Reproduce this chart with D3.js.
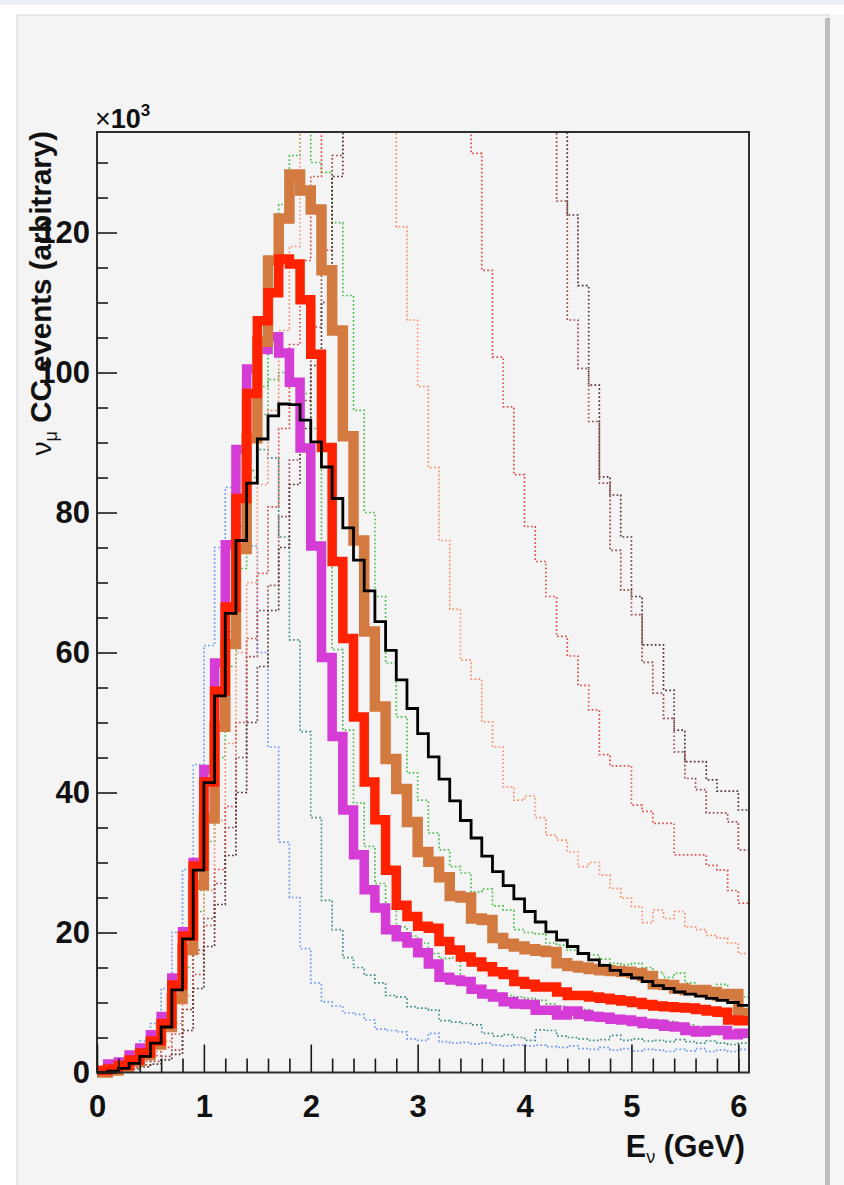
<!DOCTYPE html>
<html><head><meta charset="utf-8">
<script src="https://cdn.jsdelivr.net/npm/d3@7"></script>
<style>
html,body{margin:0;padding:0;background:#ffffff;}
svg{display:block;}
</style></head>
<body>
<svg id="chart" width="844" height="1185"></svg>
<script>
// ---------- data (values in units of 10^3 events, bins of 0.1 GeV) ----------
const binEdges = [0.0,0.1,0.2,0.3,0.4,0.5,0.6,0.7,0.8,0.9,1.0,1.1,1.2,1.3,1.4,1.5,1.6,1.7,1.8,1.9,2.0,
  2.1,2.2,2.3,2.4,2.5,2.6,2.7,2.8,2.9,3.0,3.1,3.2,3.3,3.4,3.5,3.6,3.7,3.8,3.9,4.0,
  4.1,4.2,4.3,4.4,4.5,4.6,4.7,4.8,4.9,5.0,5.1,5.2,5.3,5.4,5.5,5.6,5.7,5.8,5.9,6.0,6.1];

const blackHist = [0,0.2,0.6,1.3,2.3,4.2,6.5,11.8,19.1,28.9,41.4,53.8,65.6,76,84.2,90.5,93.8,95.5,95.4,93.2,90.1,86.5,82,77.8,73.2,68.8,64.4,60.3,56.1,52,48.4,45.1,41.9,38.8,36,33.5,30.9,28.7,26.7,24.8,23,21.5,20.1,18.9,18,17,16.1,15.3,14.6,14,13.5,13,12.4,12,11.5,11.2,10.9,10.6,10.3,10,9.6];
const redHist = [0.3,0.5,1.0,1.8,2.8,4.5,7,12.5,19.5,29.5,41.5,54.5,66.5,82,97,107.4,111.4,116.2,115.5,110.4,102.6,89.3,73,62,50.8,41.5,36.1,28.9,23.9,22.3,20.9,20.6,18.7,17.5,16.5,15.8,15.1,14.4,14,13,12.6,12.2,12.2,11.5,11,11,10.8,10.6,10.4,10.2,10,9.7,9.5,9.4,9.3,9.2,9,8.8,8.6,7.5,7.4];
const magentaHist = [0.3,1.2,1.5,2.5,3.5,5.4,8,13.5,20.1,30,43.3,58.5,75.4,89,100.5,103.3,105.1,102.8,98.6,89.2,75.2,59.3,48,37.5,31.1,26.1,23.5,20.4,19.4,18.5,17.1,15.5,13.6,13.2,13,11.9,11.2,10.8,10.1,9.8,9.7,8.9,8.9,8.2,8.8,8.3,8,7.9,7.6,7.5,7.3,7,6.9,6.6,6.5,6,5.8,6,6,5.4,5.6];
const orangeHist = [0,0.3,0.8,1.5,2.5,4,6.5,10.5,17.5,26.8,36.3,49.4,61.2,74.8,90.6,104.4,116,122,128.3,126,123.3,114.6,106,90.9,76,63,52.3,44.8,40.5,35.8,31.5,30.1,27.9,25.2,25,22,21.8,19.2,18.4,18,17.6,17.4,17.2,15.6,15.2,15,14.8,14.6,14.5,14.4,14.2,13.8,12.6,12.5,12,11.8,11.8,11.5,11,11.2,8.5];

const blueDot = [0.3,1,1.8,2.8,4.5,7,12,20,29,44,61,75,83.6,82,75.2,60,46.5,32.9,25,17.7,12.8,10.1,9.5,8.5,8.3,7.5,6.2,6,5.8,4.8,4.6,5.6,4.4,4.2,4.3,4.1,4.2,3.9,3.8,3.9,3.8,3.9,3.7,3.6,3.8,3.4,3.3,3.6,3.2,3.4,3.1,3.3,3.2,3,3.3,3.1,3.4,3,3.2,3,3.3];
const tealDot = [0.2,0.7,1.3,2.2,3.4,5.2,8,13,20,30,42,55,67,78,86,89,87.8,76.5,61.8,48.7,36.4,24.6,20.4,16.4,15,13.9,12.8,11,10.8,9.4,9.2,8.9,7.4,7.2,7,6.8,5.6,5.2,5.4,5,4.6,6.1,6,5.2,5,4.8,4.6,4.7,5.3,4.6,4.8,4.5,4.6,4.4,4.7,4.4,4.2,4.5,4.2,4,4.2];
const greenLowDot = [0.2,0.6,1.2,2,3,4.6,7.2,11.5,17.6,26,37,50,63,75,86,94,99,100,99,97,92,74,60.4,48.9,38.5,32.3,27,23.5,20.8,19.5,18.5,17,16.3,16.4,13.5,11.8,11.4,11.3,11,10.8,10.6,10.3,9.8,9.5,9.2,9,8.6,8.3,7.9,7.9,7.8,7.6,7.5,7.3,7,6.8,6.5,5.6,5.4,5.2,5];
const greenHighDot = [0,0.4,0.9,1.6,2.6,4,6.5,10,15,23,33,45,58,72,85,98,112,124,131,138,130,128.6,121.4,111,94.6,80,68,58.5,50.8,42.8,38.9,34.2,31.8,29.4,28.5,25.8,26.2,23.8,23.2,20.4,20,19.8,18.5,18.2,17.5,17,16.8,16.2,15.6,15.4,15.6,15,14.3,13.6,14.2,12.8,12.2,12,12.6,11.2,10.8];
const salmonDot = [0,0.3,0.7,1.2,2,3,4.5,7,11,17,26,36,47,60,70,84,94.6,106,118,140,152,160,165,168,165,158,148,136,120.8,107.5,98,86.4,76,66.2,58.9,56.2,50.1,46.5,40.8,38.9,39.5,36.4,33.9,33.2,31.5,29.4,30,28.2,26.3,24.9,23.7,21.4,23.2,22,23,20.8,20.4,19.6,19.2,18.5,17];
const redDot = [0,0.3,0.6,1,1.6,2.4,3.6,5.5,9,14,21,29,38,50,62,71.3,80.8,92,104,116,128,142,155,168,178,186,192,196,198,197,193,186,176,162,148,131.3,114.6,102.2,95.1,85.4,78,73,68,62.3,59.5,55.3,51.8,45.4,43.8,43.8,38.2,37.3,35.6,35.6,31.1,31.1,31.1,29.6,28.9,26,24.2];
const brownDotA = [0,0.2,0.4,0.7,1.1,1.6,2.3,3.2,9,17.5,22,27,35,45,59.4,66,69.6,79.4,87.5,96,106.5,117.5,131,145,160,175,190,200,208,212,214,213,210,205,198,190,180,170,160,150,142,137,136,124.5,107.5,100.6,93,84.2,74.6,68.9,65.4,58.6,54.2,50.6,45.8,42,40.4,37.1,37.1,35.8,31.8];
const brownDotB = [0,0.1,0.3,0.5,0.8,1.2,1.8,2.6,6,12,18,24,31,40,50,58,66,75,84,92,101,110,128,145,162,178,192,204,214,221,225,227,226,223,218,211,202,192,181,170,160,151,143,138,122.5,112.4,98.2,85.1,82.5,76.5,68,61.1,61.1,54.6,48.9,44.4,44.4,41.8,40.2,40.2,37.5];

const xMajorTicks = [0,1,2,3,4,5,6];
const xMinorTicks = [0.2,0.4,0.6,0.8,1.2,1.4,1.6,1.8,2.2,2.4,2.6,2.8,3.2,3.4,3.6,3.8,4.2,4.4,4.6,4.8,5.2,5.4,5.6,5.8,6.0];
const yMajorTicks = [0,20,40,60,80,100,120];
const yMinorTicks = [5,10,15,25,30,35,45,50,55,65,70,75,85,90,95,105,110,115,125,130];
const yMax = 134.36;

// ---------- layout ----------
const L = 97, R = 749, T = 132, B = 1072.5;
const FONT = "'Liberation Sans', Arial, Helvetica, sans-serif";
const svg = d3.select("#chart");

// page / canvas chrome
svg.append("rect").attr("x",0).attr("y",0).attr("width",844).attr("height",1185).attr("fill","#ffffff");
svg.append("rect").attr("x",0).attr("y",0).attr("width",844).attr("height",5).attr("fill","#eef1f5");
svg.append("rect").attr("x",17).attr("y",15).attr("width",812).attr("height",1175)
  .attr("fill","#f4f4f4").attr("stroke","#e2e2e2").attr("stroke-width",1.5);
svg.append("rect").attr("x",825).attr("y",18).attr("width",5).attr("height",1167).attr("fill","#bdbdbd");
svg.append("rect").attr("x",830).attr("y",15).attr("width",14).attr("height",1170).attr("fill","#f6f6f6");

const x = d3.scaleLinear().domain([0, 6.1]).range([L, R]);
const y = d3.scaleLinear().domain([0, yMax]).range([B, T]);

svg.append("defs").append("clipPath").attr("id","clipTop")
  .append("rect").attr("x",0).attr("y",T).attr("width",844).attr("height",1185-T);

function histPath(vals){
  const p = d3.path();
  p.moveTo(x(binEdges[0]), y(vals[0]));
  for (let i = 0; i < vals.length; i++){
    if (i > 0) p.lineTo(x(binEdges[i]), y(vals[i]));
    p.lineTo(x(binEdges[i+1]), y(vals[i]));
  }
  return p.toString();
}

const plot = svg.append("g").attr("clip-path","url(#clipTop)");

const dotted = [
  {v: blueDot,      c: "#6f9cf2"},
  {v: tealDot,      c: "#3f8d8d"},
  {v: greenLowDot,  c: "#55b455"},
  {v: greenHighDot, c: "#4cbf4c"},
  {v: salmonDot,    c: "#f5916c"},
  {v: redDot,       c: "#d9504c"},
  {v: brownDotA,    c: "#9a4c4c"},
  {v: brownDotB,    c: "#553030"}
];
plot.selectAll("path.dot").data(dotted).join("path").attr("class","dot")
  .attr("d", d => histPath(d.v)).attr("fill","none").attr("stroke", d => d.c)
  .attr("stroke-width",1.7).attr("stroke-dasharray","1.7 2.3");

const solid = [
  {v: magentaHist, c: "#d53bd5", w: 9.5},
  {v: orangeHist,  c: "#d27a40", w: 10.5},
  {v: redHist,     c: "#ff2200", w: 9.5},
  {v: blackHist,   c: "#000000", w: 2.8}
];
plot.selectAll("path.solid").data(solid).join("path").attr("class","solid")
  .attr("d", d => histPath(d.v)).attr("fill","none").attr("stroke", d => d.c)
  .attr("stroke-width", d => d.w).attr("stroke-linejoin","miter").attr("stroke-linecap","butt");

// frame
svg.append("rect").attr("x",L).attr("y",T).attr("width",R-L).attr("height",B-T)
  .attr("fill","none").attr("stroke","#2e2e2e").attr("stroke-width",2);

// x axis
const gx = svg.append("g").attr("transform",`translate(0,${B})`);
gx.call(d3.axisBottom(x).tickValues(xMajorTicks).tickSize(-28).tickPadding(22).tickFormat(d3.format("d")));
gx.append("g").call(d3.axisBottom(x).tickValues(xMinorTicks).tickSize(-14).tickFormat(""));
gx.selectAll(".domain").remove();
gx.selectAll("line").attr("stroke","#1a1a1a").attr("stroke-width",1.6);
gx.selectAll("text").attr("font-family",FONT).attr("font-weight","bold").attr("font-size",31).attr("fill","#111");

// y axis
const gy = svg.append("g").attr("transform",`translate(${L},0)`);
gy.call(d3.axisLeft(y).tickValues(yMajorTicks).tickSize(-20).tickPadding(7).tickFormat(d3.format("d")));
gy.append("g").call(d3.axisLeft(y).tickValues(yMinorTicks).tickSize(-11).tickFormat(""));
gy.selectAll(".domain").remove();
gy.selectAll("line").attr("stroke","#1a1a1a").attr("stroke-width",1.6);
gy.selectAll("text").attr("font-family",FONT).attr("font-weight","bold").attr("font-size",31).attr("fill","#111");

// x10^3 multiplier
const mult = svg.append("text").attr("x",95).attr("y",128).attr("font-family",FONT).attr("fill","#111");
mult.append("tspan").attr("font-size",27).text("×");
mult.append("tspan").attr("font-size",27).attr("font-weight","bold").text("10");
mult.append("tspan").attr("font-size",17).attr("font-weight","bold").attr("dy",-12).text("3");

// axis titles
const xt = svg.append("text").attr("x",745).attr("y",1157).attr("text-anchor","end")
  .attr("font-family",FONT).attr("font-weight","bold").attr("font-size",30.5).attr("fill","#111");
xt.append("tspan").text("E");
xt.append("tspan").attr("font-size",18).attr("font-weight","normal").attr("dy",6).text("ν");
xt.append("tspan").attr("dy",-6).text(" (GeV)");

const yt = svg.append("text").attr("transform","translate(51,131) rotate(-90)").attr("text-anchor","end")
  .attr("font-family",FONT).attr("font-weight","bold").attr("font-size",29.5).attr("fill","#111");
yt.append("tspan").attr("font-weight","normal").attr("font-size",28).text("ν");
yt.append("tspan").attr("font-size",18).attr("font-weight","normal").attr("dy",6).text("μ");
yt.append("tspan").attr("dy",-6).text(" CC events (arbitrary)");
</script>
</body></html>
